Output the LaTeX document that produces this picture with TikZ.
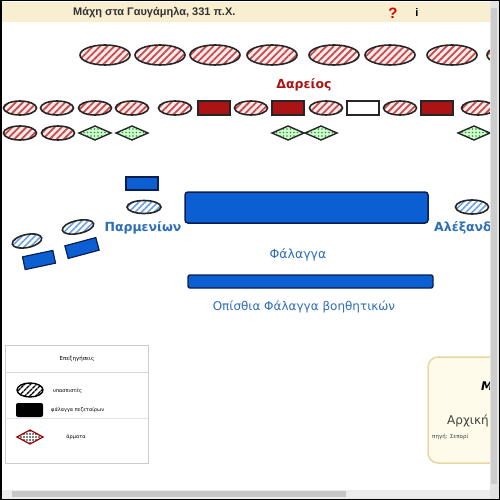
\documentclass[tikz,border=0pt]{standalone}
\usepackage{fontspec}
\setmainfont{DejaVu Sans}
\newfontfamily\titlefont{Liberation Sans}
\usetikzlibrary{patterns.meta}

\definecolor{barbeige}{RGB}{248,238,208}
\definecolor{persred}{RGB}{170,20,20}
\definecolor{stripered}{RGB}{200,75,75}
\definecolor{macblue}{RGB}{12,95,210}
\definecolor{labelblue}{RGB}{45,110,185}
\definecolor{chariotgreen}{RGB}{60,140,70}
\definecolor{navy}{RGB}{10,30,80}
\definecolor{panelbeige}{RGB}{255,251,234}
\definecolor{panelgold}{RGB}{232,215,160}

\tikzset{
  persoval/.style={draw=black!85, line width=1.6pt, preaction={fill=red!8},
    pattern={Lines[angle=45,distance=5pt,line width=1.8pt]}, pattern color=stripered},
  macoval/.style={draw=black!85, line width=1.6pt, preaction={fill=white},
    pattern={Lines[angle=45,distance=4.5pt,line width=1.6pt]}, pattern color=macblue!60},
  persrect/.style={draw=black!85, line width=1.2pt, fill=persred},
  macrect/.style={draw=navy, line width=1.2pt, fill=macblue},
  chariot/.style={draw=black!85, line width=1.4pt, preaction={fill=green!20},
    pattern={Dots[distance=3.5pt,radius=0.9pt]}, pattern color=chariotgreen},
  lbl/.style={text=labelblue, font=\fontsize{12}{14}\selectfont, inner sep=0pt},
  legtxt/.style={font=\fontsize{5}{6}\selectfont, inner sep=0pt, anchor=west}
}

\begin{document}
\begin{tikzpicture}[x=1pt, y=-1pt]
    \useasboundingbox (0,0) rectangle (500,500);

    \begin{scope}
        \clip (0,0) rectangle (490,490);
        % title bar
        \fill[barbeige] (0,2) rectangle (490,22);
        \node[font=\titlefont\bfseries\fontsize{11}{12}\selectfont, text=black!80, anchor=west, inner sep=0pt] (title) at (73,13) {Μάχη στα Γαυγάμηλα, 331 π.Χ.};
        \node[font=\titlefont\bfseries\fontsize{15}{16}\selectfont, text=red!85!black, inner sep=0pt] (help) at (393,13) {?};
        \node[font=\titlefont\bfseries\fontsize{11}{12}\selectfont, inner sep=0pt] (info) at (417,13) {i};

        % Persian front line
        \foreach \cx in {105,160,215,272,334,390,452,512}
            \draw[persoval] (\cx,55) ellipse (25 and 10);
        \node[text=persred, font=\bfseries\fontsize{12.5}{14}\selectfont, inner sep=0pt] (dareios) at (304,85) {Δαρείος};

        % Persian centre
        \foreach \cx in {20,57,95,132,175,251,326,400,478}
            \draw[persoval] (\cx,108) ellipse (16.5 and 7);
        \foreach \cx in {214,288,437}
            \draw[persrect] (\cx-16,101) rectangle (\cx+16,115);
        \draw[black!85, line width=1.2pt, fill=white] (347,101) rectangle (379,115);

        % rear row and chariots
        \foreach \cx in {20,58}
            \draw[persoval] (\cx,133) ellipse (16.5 and 7);
        \foreach \cx in {95,132,288,321,474}
            \draw[chariot] (\cx-16,133) -- (\cx,126) -- (\cx+16,133) -- (\cx,140) -- cycle;

        % Macedonian left wing
        \draw[macrect] (126,177) rectangle (158,190);
        \draw[macoval] (144,207) ellipse (17 and 6.5);
        \draw[macoval, rotate around={12:(78,227)}] (78,227) ellipse (16 and 6.5);
        \draw[macoval, rotate around={12:(27,241)}] (27,241) ellipse (15 and 6.5);
        \draw[macrect, rotate around={12:(39,260)}] (23.5,253.5) rectangle (54.5,266.5);
        \draw[macrect, rotate around={15:(82,248)}] (66,241.5) rectangle (98,254.5);
        \node[lbl, font=\bfseries\fontsize{12.5}{14}\selectfont] (parmenion) at (143,228) {Παρμενίων};

        % phalanx
        \draw[macrect, rounded corners=3pt, line width=1.5pt] (185,192) rectangle (428,223);
        \node[lbl, font=\fontsize{12.5}{14}\selectfont] (phalanx) at (298,255) {Φάλαγγα};
        \draw[macrect, rounded corners=2pt, line width=1.4pt] (188,275) rectangle (433,288);
        \node[lbl] (rearphalanx) at (304,307) {Οπίσθια Φάλαγγα βοηθητικών};

        % right wing
        \draw[macoval] (472,207) ellipse (16.5 and 7);
        \node[lbl, font=\bfseries\fontsize{12.5}{14}\selectfont, anchor=west] (alexandros) at (434,228) {Αλέξανδρος};

        % legend
        \draw[gray!40, line width=1pt] (5,345) rectangle (148,463);
        \draw[gray!30, line width=1pt] (5,372) -- (148,372);
        \draw[gray!20, line width=0.8pt] (5,418) -- (148,418);
        \node[font=\fontsize{5.5}{6}\selectfont, inner sep=0pt] (legtitle) at (77,359) {Επεξηγήσεις};
        \draw[line width=1.4pt, preaction={fill=white}, pattern={Lines[angle=45,distance=4pt,line width=1.5pt]}, pattern color=black] (30,390) ellipse (13 and 7);
        \node[legtxt] (leghyp) at (53,391) {υπασπιστές};
        \fill[black, rounded corners=2pt] (16,403) rectangle (43,417);
        \node[legtxt] (legphal) at (51,410) {φάλαγγα πεζεταίρων};
        \draw[draw=red!60!black, line width=1.2pt, preaction={fill=white}, pattern={Dots[distance=3pt,radius=0.8pt]}, pattern color=black] (17,437) -- (30,430) -- (43,437) -- (30,444) -- cycle;
        \node[legtxt, anchor=center] (legchar) at (76,437) {άρματα};

        % info panel
        \draw[panelgold, fill=panelbeige, line width=1.5pt, rounded corners=10pt] (428,357) rectangle (520,463);
        \node[font=\bfseries\itshape\fontsize{12}{14}\selectfont, inner sep=0pt, anchor=west] (paneltitle) at (481,386) {Μ};
        \node[font=\fontsize{12}{14}\selectfont, text=black!75, inner sep=0pt, anchor=west] (panelhead) at (447,421) {Αρχική};
        \node[font=\fontsize{5.5}{6}\selectfont, text=black!75, inner sep=0pt, anchor=west] (panelsrc) at (432,437) {πηγή: Σεπορί};
    \end{scope}

    % scroll bars and frame
    \fill[gray!22] (490,0) rectangle (500,500);
    \fill[gray!40] (491,8) rectangle (497,484);
    \fill[gray!15] (0,490) rectangle (490,500);
    \fill[gray!45] (12,491) rectangle (346,497);
    \draw[black, line width=3pt] (0,0) rectangle (500,500);
\end{tikzpicture}
\end{document}
